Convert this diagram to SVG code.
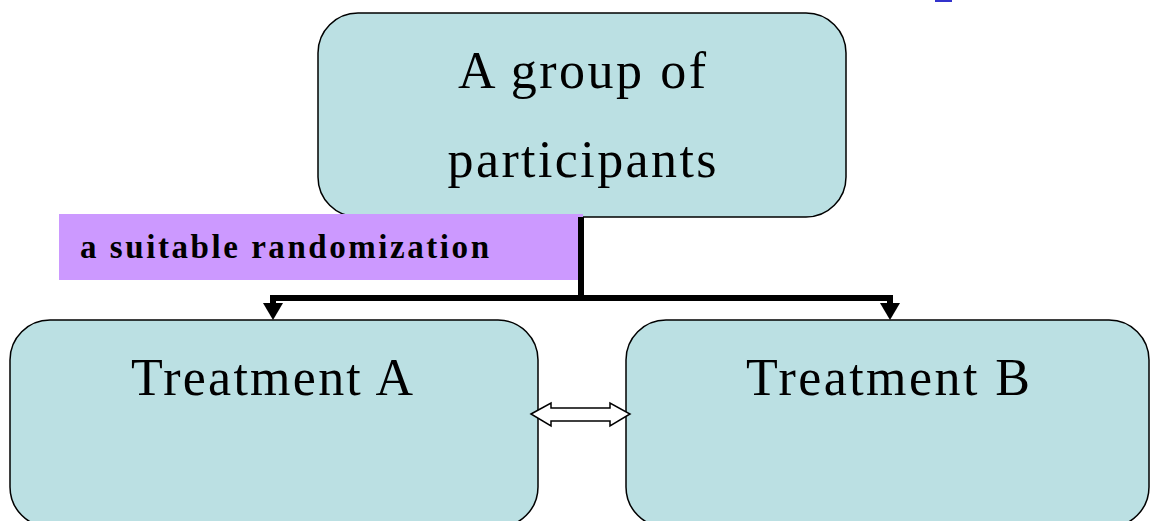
<svg xmlns="http://www.w3.org/2000/svg" width="1150" height="521" viewBox="0 0 1150 521">
<style>
.box{fill:#bbe0e3;stroke:#000;stroke-width:1.5}
.lbl{font-family:"Liberation Serif","Times New Roman",serif;font-size:52px;fill:#000;text-anchor:middle}
.rnd{font-family:"Liberation Serif","Times New Roman",serif;font-size:33px;font-weight:bold;fill:#000}
.conn{stroke:#000;stroke-width:6;fill:none}
</style>
<rect x="935" y="0" width="17" height="2" fill="#3333cc"/>
<g id="participants">
<rect class="box" x="318" y="13" width="528" height="204" rx="40" ry="40"/>
<text class="lbl" x="582" y="88" textLength="248" lengthAdjust="spacing">A group of</text>
<text class="lbl" x="582" y="177" textLength="269" lengthAdjust="spacing">participants</text>
</g>
<g id="treatmentA">
<rect class="box" x="10" y="320" width="528" height="207" rx="40" ry="40"/>
<text class="lbl" x="272" y="395" textLength="282" lengthAdjust="spacing">Treatment A</text>
</g>
<g id="treatmentB">
<rect class="box" x="626" y="320" width="523" height="207" rx="40" ry="40"/>
<text class="lbl" x="888" y="395" textLength="284" lengthAdjust="spacing">Treatment B</text>
</g>
<g id="randomization">
<rect x="59" y="214" width="524" height="66" fill="#cc99ff"/>
<text class="rnd" x="80" y="258" textLength="409" lengthAdjust="spacing">a suitable randomization</text>
</g>
<g id="connectors">
<path class="conn" d="M581,217 V298"/>
<path class="conn" d="M270,298 H893"/>
<path d="M273,298 V303" stroke="#000" stroke-width="6" fill="none"/>
<path d="M890,298 V303" stroke="#000" stroke-width="6" fill="none"/>
<path d="M263,303 L283,303 L273,320 Z" fill="#000"/>
<path d="M880,303 L900,303 L890,320 Z" fill="#000"/>
<path d="M531,414 L551,403 L551,408 L610,408 L610,403 L630,414 L610,426 L610,421 L551,421 L551,426 Z" fill="#fff" stroke="#000" stroke-width="1.5" stroke-linejoin="miter"/>
</g>
</svg>
